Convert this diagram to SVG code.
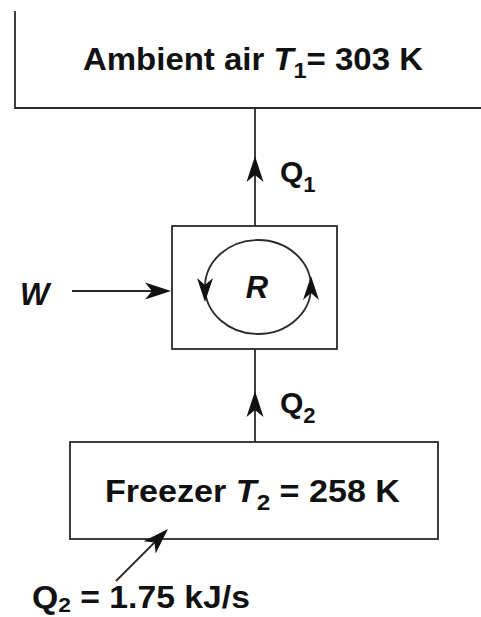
<svg xmlns="http://www.w3.org/2000/svg" width="481" height="617" viewBox="0 0 481 617">
<style>
.ln{stroke:#2a2a2a;stroke-width:1.8;fill:none}
.hd{fill:#111}
.t{font-family:"Liberation Sans",Arial,sans-serif;font-weight:bold;fill:#111}
.it{font-style:italic}
</style>
<defs>
<path id="head" d="M0,0 L-26,-8.5 L-19,0 L-26,8.5 Z"/>
<path id="shead" d="M0,0 L-24,-8 L-17,0 L-24,8 Z"/>
</defs>
<rect width="481" height="617" fill="#fff"/>
<g id="ambient">
<path class="ln" d="M15,11 V108 H481"/>
<text class="t" x="83" y="70" font-size="31" textLength="340" lengthAdjust="spacingAndGlyphs">Ambient air <tspan class="it">T</tspan><tspan font-size="22" dy="8">1</tspan><tspan dy="-8">= 303 K</tspan></text>
</g>
<g id="refrigerator">
<rect class="ln" x="172" y="226" width="165" height="123"/>
<ellipse class="ln" cx="258" cy="287" rx="53" ry="47"/>
<use href="#shead" class="hd" transform="translate(205,302) rotate(90)"/>
<use href="#shead" class="hd" transform="translate(311,276) rotate(-90)"/>
<text class="t it" x="257" y="298" font-size="31" text-anchor="middle">R</text>
</g>
<g id="freezer">
<rect class="ln" x="70" y="442" width="368" height="97"/>
<text class="t" x="105" y="502" font-size="31" textLength="295" lengthAdjust="spacingAndGlyphs">Freezer <tspan class="it">T</tspan><tspan font-size="22" dy="8">2</tspan><tspan dy="-8"> = 258 K</tspan></text>
</g>
<g id="connectors">
<line class="ln" x1="255" y1="108" x2="255" y2="226"/>
<use href="#head" class="hd" transform="translate(255,156) rotate(-90)"/>
<line class="ln" x1="255" y1="349" x2="255" y2="442"/>
<use href="#head" class="hd" transform="translate(255,391) rotate(-90)"/>
<line class="ln" x1="72" y1="291" x2="168" y2="291"/>
<use href="#head" class="hd" transform="translate(171,291)"/>
<line class="ln" x1="116" y1="581" x2="162" y2="535"/>
<use href="#head" class="hd" transform="translate(168,529) rotate(-45)"/>
</g>
<g id="labels">
<text class="t" x="280" y="182" font-size="30">Q<tspan font-size="22" dy="10">1</tspan></text>
<text class="t" x="280" y="413" font-size="30">Q<tspan font-size="22" dy="10">2</tspan></text>
<text class="t it" x="20" y="305" font-size="31">W</text>
<text class="t" x="32" y="608" font-size="31" textLength="218" lengthAdjust="spacingAndGlyphs">Q<tspan font-size="21" dy="4">2</tspan><tspan dy="-4"> = 1.75 kJ/s</tspan></text>
</g>
</svg>
